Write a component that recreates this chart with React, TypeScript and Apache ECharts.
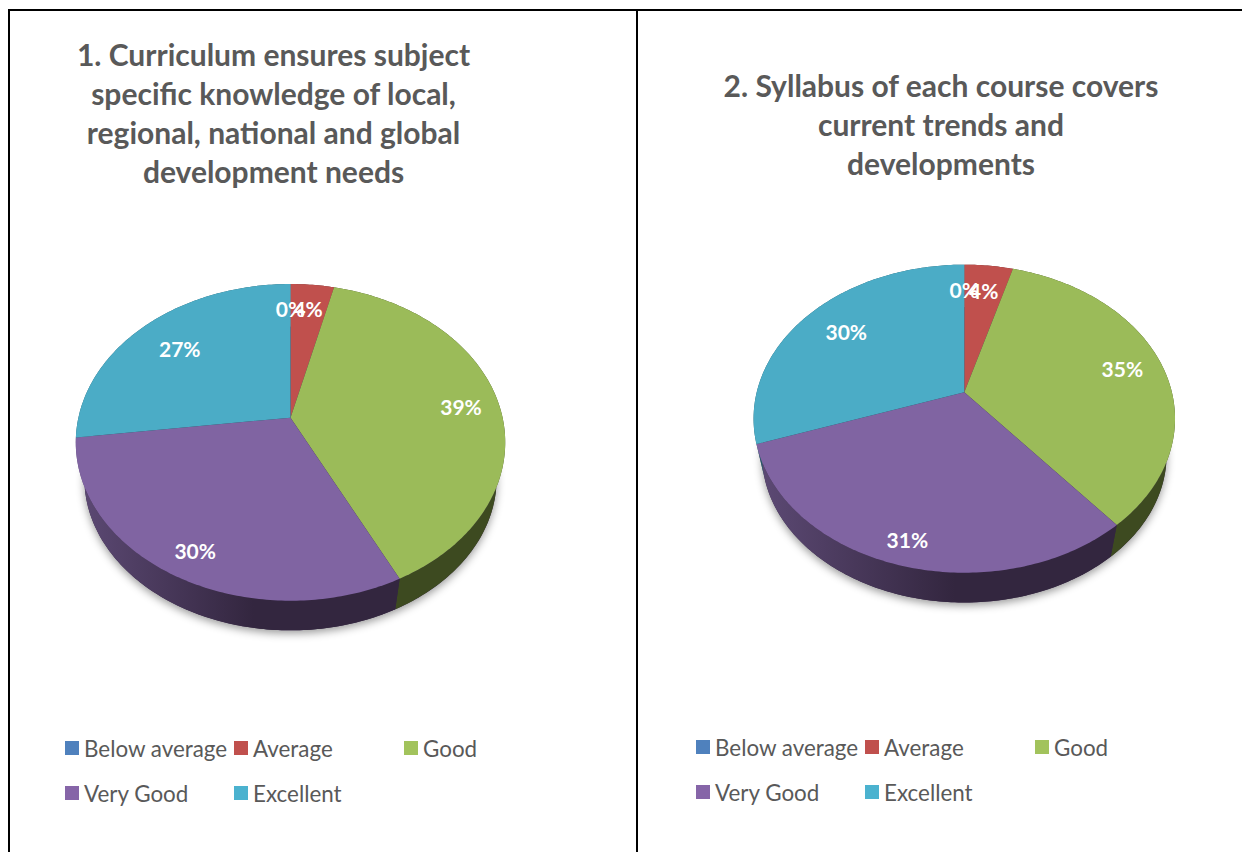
import React, { useEffect, useRef } from "react";
import * as echarts from "echarts";

const categories = ["Below average", "Average", "Good", "Very Good", "Excellent"];
const titleOne = "1. Curriculum ensures subject\nspecific knowledge of local,\nregional, national and global\ndevelopment needs";
const titleTwo = "2. Syllabus of each course covers\ncurrent trends and\ndevelopments";
const valuesOne = [0, 3.8, 38.9, 30.3, 27];
const valuesTwo = [0, 4.4, 34.6, 30.7, 30.3];

const topColors = ["#4f81bd", "#c0504d", "#9bbb59", "#8064a2", "#4bacc6"];
const legendColors = ["#4f81bd", "#c0504d", "#a2c35c", "#8665a8", "#4bb2cf"];
const font = "Lato, Carlito, sans-serif";
const TAU = Math.PI * 2;

type Pie = {
  values: number[]; cx: number; cy: number; d: number; a: number; c: number; k: number; dy: number;
  labelR: number[]; labelDy: number[];
};

const pies: Pie[] = [
  { values: valuesOne, cx: 290.5, cy: 417.7, d: 212.1, a: 154.5, c: -0.1557, k: 0.96, dy: 37, labelR: [0.78, 0.78, 0.82, 0.84, 0.75], labelDy: [-2, -2, 2.5, 4, 2] },
  { values: valuesTwo, cx: 964.3, cy: 392.3, d: 207.6, a: 149.5, c: -0.1714, k: 0.96, dy: 37, labelR: [0.77, 0.77, 0.8, 0.87, 0.75], labelDy: [-1, -1, 0, 1, 0] },
];

function project(p: Pie, theta: number, r = 1, bottom = false): [number, number] {
  const u = Math.sin(theta) * r;
  const v = -Math.cos(theta) * r;
  const w = 1 + p.c * v;
  const X = (p.d * u) / w;
  const Y = (p.a * v) / w;
  return bottom ? [p.cx + X * p.k, p.cy + Y * p.k + p.dy] : [p.cx + X, p.cy + Y];
}

function bounds(p: Pie, i: number): [number, number] {
  const total = p.values.reduce((s, x) => s + x, 0);
  const before = p.values.slice(0, i).reduce((s, x) => s + x, 0);
  return [(before / total) * TAU, ((before + p.values[i]) / total) * TAU];
}

function arc(p: Pie, from: number, to: number, bottom: boolean) {
  const n = Math.max(2, Math.ceil(Math.abs(to - from) / 0.015));
  const pts: [number, number][] = [];
  for (let i = 0; i <= n; i++) pts.push(project(p, from + ((to - from) * i) / n, 1, bottom));
  return pts;
}

function sideFill(i: number) {
  if (i === 3) {
    return new echarts.graphic.LinearGradient(0, 0, 1, 0, [
      { offset: 0, color: "#5d4a75" },
      { offset: 0.55, color: "#33263f" },
      { offset: 1, color: "#33263f" },
    ]);
  }
  return ["#2a4260", "#642826", "#3d4a20", "#33263f", "#265a68"][i];
}

const seriesFor = (p: Pie) => {
  const base = {
    type: "custom",
    coordinateSystem: "none",
    silent: true,
    animation: false,
  };
  const out: any[] = [];
  out.push({
    ...base,
    data: [1],
    renderItem: () => ({
      type: "polygon",
      shape: { points: arc(p, 0, TAU, true) },
      style: { fill: "#33263f", shadowBlur: 9, shadowOffsetY: 3, shadowColor: "rgba(0,0,0,0.4)" },
    }),
  });
  out.push({
    ...base,
    data: p.values,
    renderItem: (params: any) => {
      const i = params.dataIndex;
      const [a, b] = bounds(p, i);
      return {
        type: "polygon",
        shape: { points: [...arc(p, a, b, false), ...arc(p, b, a, true)] },
        style: { fill: sideFill(i) },
      };
    },
  });
  categories.forEach((name, i) => {
    out.push({
      ...base,
      name,
      data: [p.values[i]],
      itemStyle: { color: legendColors[i] },
      renderItem: () => {
        const [a, b] = bounds(p, i);
        return {
          type: "polygon",
          shape: { points: [[p.cx, p.cy], ...arc(p, a, b, false)] },
          style: { fill: topColors[i] },
        };
      },
    });
  });
  out.push({
    ...base,
    data: p.values,
    renderItem: (params: any) => {
      const i = params.dataIndex;
      const [a, b] = bounds(p, i);
      const [x, y] = project(p, (a + b) / 2, p.labelR[i]);
      return {
        type: "text",
        x,
        y: y + p.labelDy[i],
        style: {
          text: `${Number(p.values[i]).toFixed(0)}%`,
          fill: "#ffffff",
          fontFamily: font,
          fontSize: 21,
          fontWeight: "bold",
          align: "center",
          verticalAlign: "middle",
        },
      };
    },
  });
  return out;
};

const legendSpots = [
  [[65, 737], [234, 737], [404, 737], [65, 782], [234, 782]],
  [[696, 736], [865, 736], [1035, 736], [696, 781], [865, 781]],
];

const legends = legendSpots.flatMap((spots) =>
  spots.map(([left, top], i) => ({
    left,
    top,
    padding: 0,
    itemWidth: 14,
    itemHeight: 14,
    icon: "rect",
    selectedMode: false,
    orient: "horizontal",
    data: [{ name: categories[i], itemStyle: { color: legendColors[i] } }],
    textStyle: { color: "#595959", fontFamily: font, fontSize: 22.4, padding: [0, 0, 0, 0] },
  }))
);

const borders = [
  [8, 10, 1242, 10],
  [9, 9, 9, 852],
  [637, 9, 637, 852],
];

export default function App() {
  const ref = useRef<HTMLDivElement>(null);
  useEffect(() => {
    const chart = echarts.init(ref.current!, undefined, { renderer: "svg" });
    chart.setOption({
      animation: false,
      backgroundColor: "#ffffff",
      title: [
        {
          text: titleOne,
          left: 268.5,
          top: 29,
          textAlign: "center",
          textStyle: { color: "#595959", fontFamily: font, fontSize: 30, fontWeight: "bold", lineHeight: 39 },
        },
        {
          text: titleTwo,
          left: 936,
          top: 60,
          textAlign: "center",
          textStyle: { color: "#595959", fontFamily: font, fontSize: 30, fontWeight: "bold", lineHeight: 39 },
        },
      ],
      legend: legends,
      series: [...seriesFor(pies[0]), ...seriesFor(pies[1])],
      graphic: borders.map(([x1, y1, x2, y2]) => ({
        type: "line",
        shape: { x1, y1, x2, y2 },
        style: { stroke: "#000000", lineWidth: 2 },
      })),
    });
    return () => chart.dispose();
  }, []);
  return <div ref={ref} style={{ position: "absolute", left: 0, top: 0, width: 1242, height: 852 }} />;
}
